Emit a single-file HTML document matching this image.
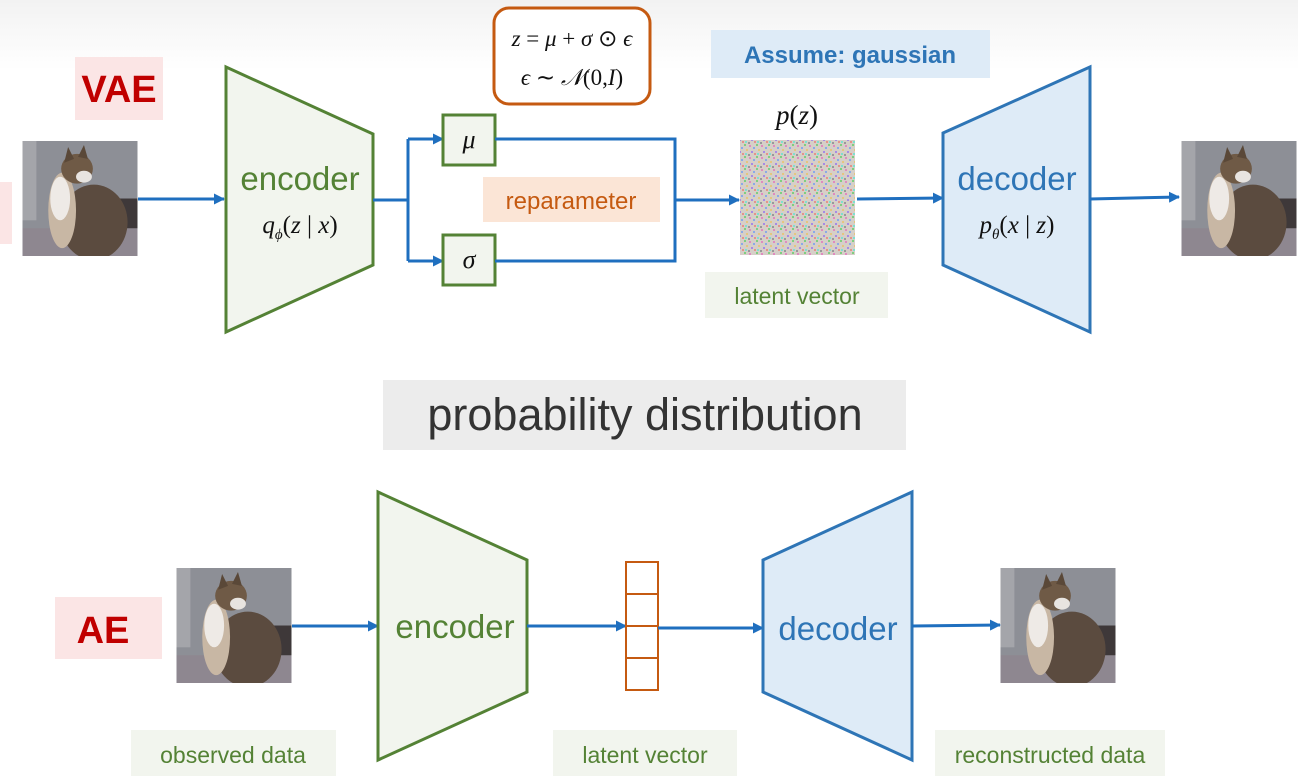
<!DOCTYPE html>
<html><head><meta charset="utf-8"><style>
html,body{margin:0;padding:0;background:#fff;}
svg{display:block;}
.t{font-family:"Liberation Sans",sans-serif;}
.m{font-family:"Liberation Serif",serif;font-style:italic;}
</style></head><body>
<svg width="1298" height="776" viewBox="0 0 1298 776" xmlns="http://www.w3.org/2000/svg">
<defs>
<linearGradient id="bg" x1="0" y1="0" x2="0" y2="1"><stop offset="0" stop-color="#f2f2f2"/><stop offset="1" stop-color="#ffffff"/></linearGradient>
<marker id="ar" markerWidth="11" markerHeight="11" refX="10" refY="5.5" orient="auto" markerUnits="userSpaceOnUse"><path d="M0,0 L11,5.5 L0,11 z" fill="#1f6fbf"/></marker>
<pattern id="nz" width="12" height="12" patternUnits="userSpaceOnUse">
<rect width="12" height="12" fill="#d6cfc8"/>
<rect x="0" y="0" width="2" height="2" fill="#7fcf7f"/><rect x="5" y="1" width="2" height="2" fill="#e08ac0"/>
<rect x="9" y="3" width="2" height="2" fill="#8aaae8"/><rect x="2" y="5" width="2" height="2" fill="#e5c67f"/>
<rect x="7" y="7" width="2" height="2" fill="#a68ae5"/><rect x="1" y="9" width="2" height="2" fill="#7fe0d0"/>
<rect x="10" y="9" width="2" height="2" fill="#e5938a"/><rect x="4" y="10" width="2" height="2" fill="#999"/>
</pattern>
<symbol id="cat" viewBox="0 0 116 116">
<rect width="116" height="116" fill="#8d8f96"/>
<rect x="0" y="0" width="14" height="80" fill="#a4a5aa"/>
<rect x="60" y="58" width="56" height="58" fill="#3e3839"/>
<rect x="0" y="88" width="116" height="28" fill="#8e8790"/>
<ellipse cx="72" cy="82" rx="34" ry="38" fill="#5b4b3f"/>
<ellipse cx="40" cy="70" rx="14" ry="38" fill="#c8b7a4"/>
<ellipse cx="38" cy="58" rx="10" ry="22" fill="#eeeae6"/>
<ellipse cx="55" cy="28" rx="16" ry="15" fill="#6f5a46"/>
<ellipse cx="62" cy="36" rx="8" ry="6" fill="#e8e4e0"/>
<path d="M42,22 L46,6 L52,18 Z M56,16 L62,4 L66,18 Z" fill="#5a4838"/>
</symbol>
</defs>
<rect width="1298" height="70" fill="url(#bg)"/>

<!-- VAE -->
<rect x="75" y="57" width="88" height="63" fill="#fbe5e5"/>
<text x="119" y="102" text-anchor="middle" class="t" font-size="38" font-weight="bold" fill="#c00000">VAE</text>
<rect x="0" y="182" width="12" height="62" fill="#fbe5e5"/>
<use href="#cat" x="22" y="141" width="116" height="115"/>
<line x1="138" y1="199" x2="224" y2="199" stroke="#1f6fbf" stroke-width="3" marker-end="url(#ar)"/>
<polygon points="226,67 373,134 373,265 226,332" fill="#f2f5ee" stroke="#548235" stroke-width="3"/>
<text x="300" y="190" text-anchor="middle" class="t" font-size="33" fill="#548235">encoder</text>
<text x="300" y="233" text-anchor="middle" class="m" font-size="25" fill="#111">q<tspan font-size="15" dy="6">ϕ</tspan><tspan dy="-6" font-style="normal">(</tspan>z<tspan font-style="normal"> | </tspan>x<tspan font-style="normal">)</tspan></text>
<path d="M373,200 H408 M408,139 V261" stroke="#1f6fbf" stroke-width="3" fill="none"/>
<line x1="408" y1="139" x2="443" y2="139" stroke="#1f6fbf" stroke-width="3" marker-end="url(#ar)"/>
<line x1="408" y1="261" x2="443" y2="261" stroke="#1f6fbf" stroke-width="3" marker-end="url(#ar)"/>
<rect x="443" y="115" width="52" height="50" fill="#f2f5ee" stroke="#548235" stroke-width="3"/>
<text x="469" y="148" text-anchor="middle" class="m" font-size="26" fill="#111">μ</text>
<rect x="443" y="235" width="52" height="50" fill="#f2f5ee" stroke="#548235" stroke-width="3"/>
<text x="469" y="268" text-anchor="middle" class="m" font-size="26" fill="#111">σ</text>
<path d="M495,139 H675 V261 H495" stroke="#1f6fbf" stroke-width="3" fill="none"/>
<line x1="675" y1="200" x2="739" y2="200" stroke="#1f6fbf" stroke-width="3" marker-end="url(#ar)"/>
<rect x="483" y="177" width="177" height="45" fill="#fbe5d6"/>
<text x="571" y="209" text-anchor="middle" class="t" font-size="24" fill="#c55a11">reparameter</text>
<rect x="494" y="8" width="156" height="96" rx="15" fill="#fff" stroke="#c55a11" stroke-width="3"/>
<text x="572" y="46" text-anchor="middle" class="m" font-size="23" fill="#111">z <tspan font-style="normal">=</tspan> μ <tspan font-style="normal">+</tspan> σ <tspan font-style="normal">⊙</tspan> ϵ</text>
<text x="572" y="85" text-anchor="middle" class="m" font-size="23" fill="#111">ϵ <tspan font-style="normal">∼</tspan> 𝒩<tspan font-style="normal">(0,</tspan>I<tspan font-style="normal">)</tspan></text>
<rect x="711" y="30" width="279" height="48" fill="#deebf7"/>
<text x="850" y="63" text-anchor="middle" class="t" font-size="24" font-weight="bold" fill="#2e75b6">Assume: gaussian</text>
<text x="797" y="124" text-anchor="middle" class="m" font-size="27" fill="#111">p<tspan font-style="normal">(</tspan>z<tspan font-style="normal">)</tspan></text>
<rect x="740" y="140" width="115" height="115" fill="url(#nz)"/>
<line x1="857" y1="199" x2="943" y2="198" stroke="#1f6fbf" stroke-width="3" marker-end="url(#ar)"/>
<rect x="705" y="272" width="183" height="46" fill="#f2f5ee"/>
<text x="797" y="304" text-anchor="middle" class="t" font-size="23" fill="#548235">latent vector</text>
<polygon points="943,133 1090,67 1090,332 943,265" fill="#deebf7" stroke="#2e75b6" stroke-width="3"/>
<text x="1017" y="190" text-anchor="middle" class="t" font-size="33" fill="#2e75b6">decoder</text>
<text x="1017" y="233" text-anchor="middle" class="m" font-size="25" fill="#111">p<tspan font-size="15" dy="6">θ</tspan><tspan dy="-6" font-style="normal">(</tspan>x<tspan font-style="normal"> | </tspan>z<tspan font-style="normal">)</tspan></text>
<line x1="1090" y1="199" x2="1179" y2="197" stroke="#1f6fbf" stroke-width="3" marker-end="url(#ar)"/>
<use href="#cat" x="1180" y="141" width="118" height="115"/>

<!-- middle -->
<rect x="383" y="380" width="523" height="70" fill="#ececec"/>
<text x="645" y="430" text-anchor="middle" class="t" font-size="45" fill="#333">probability distribution</text>

<!-- AE -->
<rect x="55" y="597" width="107" height="62" fill="#fbe5e5"/>
<text x="103" y="643" text-anchor="middle" class="t" font-size="38" font-weight="bold" fill="#c00000">AE</text>
<use href="#cat" x="176" y="568" width="116" height="115"/>
<line x1="292" y1="626" x2="378" y2="626" stroke="#1f6fbf" stroke-width="3" marker-end="url(#ar)"/>
<polygon points="378,492 527,560 527,692 378,760" fill="#f2f5ee" stroke="#548235" stroke-width="3"/>
<text x="455" y="638" text-anchor="middle" class="t" font-size="33" fill="#548235">encoder</text>
<line x1="527" y1="626" x2="626" y2="626" stroke="#1f6fbf" stroke-width="3" marker-end="url(#ar)"/>
<g fill="#fff" stroke="#c55a11" stroke-width="2">
<rect x="626" y="562" width="32" height="32"/><rect x="626" y="594" width="32" height="32"/>
<rect x="626" y="626" width="32" height="32"/><rect x="626" y="658" width="32" height="32"/>
</g>
<line x1="658" y1="628" x2="763" y2="628" stroke="#1f6fbf" stroke-width="3" marker-end="url(#ar)"/>
<polygon points="763,560 912,492 912,760 763,692" fill="#deebf7" stroke="#2e75b6" stroke-width="3"/>
<text x="838" y="640" text-anchor="middle" class="t" font-size="33" fill="#2e75b6">decoder</text>
<line x1="912" y1="626" x2="1000" y2="625" stroke="#1f6fbf" stroke-width="3" marker-end="url(#ar)"/>
<use href="#cat" x="1000" y="568" width="116" height="115"/>
<rect x="131" y="730" width="205" height="46" fill="#f2f5ee"/>
<text x="233" y="763" text-anchor="middle" class="t" font-size="23" fill="#548235">observed data</text>
<rect x="553" y="730" width="184" height="46" fill="#f2f5ee"/>
<text x="645" y="763" text-anchor="middle" class="t" font-size="23" fill="#548235">latent vector</text>
<rect x="935" y="730" width="230" height="46" fill="#f2f5ee"/>
<text x="1050" y="763" text-anchor="middle" class="t" font-size="23" fill="#548235">reconstructed data</text>
</svg>
</body></html>
